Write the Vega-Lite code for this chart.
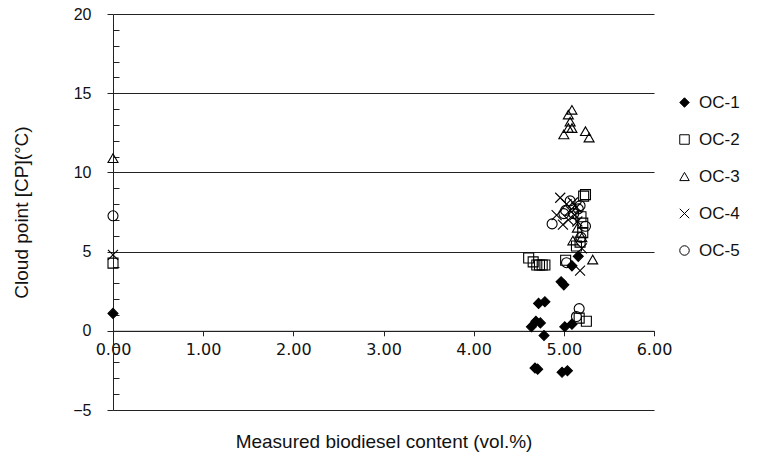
{
  "$schema": "https://vega.github.io/schema/vega-lite/v6.json",
  "autosize": "none",
  "width": 541,
  "height": 396,
  "padding": {"left": 113, "top": 14, "right": 124, "bottom": 51},
  "background": "white",
  "config": {"view": {"stroke": null}},
  "data": {
    "values": [
      {"series": "OC-1", "content": 0.0, "cp": 1.1},
      {"series": "OC-1", "content": 4.64, "cp": 0.25},
      {"series": "OC-1", "content": 4.69, "cp": 0.6},
      {"series": "OC-1", "content": 4.74, "cp": 0.5},
      {"series": "OC-1", "content": 4.78, "cp": -0.3},
      {"series": "OC-1", "content": 4.72, "cp": 1.73},
      {"series": "OC-1", "content": 4.79, "cp": 1.84},
      {"series": "OC-1", "content": 4.68, "cp": -2.35},
      {"series": "OC-1", "content": 4.71, "cp": -2.42},
      {"series": "OC-1", "content": 4.98, "cp": -2.62},
      {"series": "OC-1", "content": 5.04, "cp": -2.52},
      {"series": "OC-1", "content": 5.01, "cp": 0.25},
      {"series": "OC-1", "content": 5.09, "cp": 0.42},
      {"series": "OC-1", "content": 4.97, "cp": 3.1},
      {"series": "OC-1", "content": 5.0, "cp": 2.9},
      {"series": "OC-1", "content": 5.09, "cp": 4.1},
      {"series": "OC-1", "content": 5.16, "cp": 4.7},
      {"series": "OC-2", "content": 0.0, "cp": 4.27},
      {"series": "OC-2", "content": 4.61, "cp": 4.6},
      {"series": "OC-2", "content": 4.66, "cp": 4.35},
      {"series": "OC-2", "content": 4.7, "cp": 4.15},
      {"series": "OC-2", "content": 4.73, "cp": 4.15},
      {"series": "OC-2", "content": 4.76, "cp": 4.15},
      {"series": "OC-2", "content": 4.79, "cp": 4.15},
      {"series": "OC-2", "content": 5.02, "cp": 4.45},
      {"series": "OC-2", "content": 5.14, "cp": 5.35},
      {"series": "OC-2", "content": 5.18, "cp": 5.6},
      {"series": "OC-2", "content": 5.21, "cp": 6.2},
      {"series": "OC-2", "content": 5.21, "cp": 6.8},
      {"series": "OC-2", "content": 5.19, "cp": 7.2},
      {"series": "OC-2", "content": 5.22, "cp": 8.5},
      {"series": "OC-2", "content": 5.24, "cp": 8.6},
      {"series": "OC-2", "content": 5.17, "cp": 0.8},
      {"series": "OC-2", "content": 5.25, "cp": 0.6},
      {"series": "OC-3", "content": 0.0, "cp": 10.9},
      {"series": "OC-3", "content": 5.09, "cp": 13.95},
      {"series": "OC-3", "content": 5.05, "cp": 13.65},
      {"series": "OC-3", "content": 5.07, "cp": 13.2},
      {"series": "OC-3", "content": 5.05, "cp": 12.8},
      {"series": "OC-3", "content": 5.09, "cp": 12.8},
      {"series": "OC-3", "content": 5.0, "cp": 12.4},
      {"series": "OC-3", "content": 5.24, "cp": 12.6},
      {"series": "OC-3", "content": 5.28, "cp": 12.2},
      {"series": "OC-3", "content": 5.1, "cp": 5.7},
      {"series": "OC-3", "content": 5.2, "cp": 5.9},
      {"series": "OC-3", "content": 5.15, "cp": 6.5},
      {"series": "OC-3", "content": 5.32, "cp": 4.5},
      {"series": "OC-4", "content": 0.0, "cp": 4.8},
      {"series": "OC-4", "content": 4.96, "cp": 8.4},
      {"series": "OC-4", "content": 4.92, "cp": 7.3},
      {"series": "OC-4", "content": 4.99, "cp": 6.7},
      {"series": "OC-4", "content": 5.03, "cp": 8.0},
      {"series": "OC-4", "content": 5.07, "cp": 7.6},
      {"series": "OC-4", "content": 5.1, "cp": 8.1},
      {"series": "OC-4", "content": 5.12, "cp": 7.3},
      {"series": "OC-4", "content": 5.15, "cp": 6.9},
      {"series": "OC-4", "content": 5.05, "cp": 7.0},
      {"series": "OC-4", "content": 5.14, "cp": 7.8},
      {"series": "OC-4", "content": 5.2, "cp": 5.2},
      {"series": "OC-4", "content": 5.18, "cp": 3.8},
      {"series": "OC-5", "content": 0.0, "cp": 7.26},
      {"series": "OC-5", "content": 4.87, "cp": 6.75},
      {"series": "OC-5", "content": 5.0, "cp": 7.4},
      {"series": "OC-5", "content": 5.02, "cp": 7.6},
      {"series": "OC-5", "content": 5.07, "cp": 8.2},
      {"series": "OC-5", "content": 5.11, "cp": 7.4},
      {"series": "OC-5", "content": 5.16, "cp": 7.7},
      {"series": "OC-5", "content": 5.18, "cp": 7.9},
      {"series": "OC-5", "content": 5.24, "cp": 6.6},
      {"series": "OC-5", "content": 5.19, "cp": 5.9},
      {"series": "OC-5", "content": 5.03, "cp": 4.3},
      {"series": "OC-5", "content": 5.17, "cp": 1.4},
      {"series": "OC-5", "content": 5.14, "cp": 0.9}
    ]
  },
  "resolve": {"axis": {"y": "independent", "x": "independent"}},
  "layer": [
    {
      "description": "Minor y ticks, drawn inward every 1 °C",
      "mark": {"type": "point", "opacity": 0},
      "encoding": {
        "x": {"field": "content", "type": "quantitative", "scale": {"domain": [0, 6], "nice": false}, "axis": null},
        "y": {
          "field": "cp", "type": "quantitative",
          "scale": {"domain": [-5, 20], "nice": false},
          "axis": {
            "orient": "left", "values": [-4, -3, -2, -1, 1, 2, 3, 4, 6, 7, 8, 9, 11, 12, 13, 14, 16, 17, 18, 19],
            "labels": false, "domain": false, "grid": false, "title": null,
            "tickSize": -6, "tickColor": "#222", "tickWidth": 1
          }
        }
      }
    },
    {
      "mark": {"type": "point", "filled": true, "strokeWidth": 1.1, "opacity": 1, "size": 100},
      "encoding": {
        "x": {
          "field": "content", "type": "quantitative",
          "scale": {"domain": [0, 6], "nice": false},
          "axis": {
            "values": [0, 1, 2, 3, 4, 5, 6], "format": ".2f", "offset": -79.2, "labelFlush": false,
            "grid": false, "domainColor": "#222", "tickColor": "#222", "tickSize": 5,
            "labelFont": "DejaVu Sans", "labelFontSize": 16, "labelColor": "#111", "labelPadding": 6,
            "title": "Measured biodiesel content (vol.%)", "titleFont": "Liberation Sans",
            "titleFontSize": 19, "titleFontWeight": "normal", "titleColor": "#111", "titlePadding": 75
          }
        },
        "y": {
          "field": "cp", "type": "quantitative",
          "scale": {"domain": [-5, 20], "nice": false},
          "axis": {
            "orient": "left", "values": [-5, 0, 5, 10, 15, 20], "labelFlush": false,
            "grid": true, "gridColor": "#222", "gridWidth": 1,
            "domainColor": "#222", "tickColor": "#222", "tickSize": 6,
            "labelFont": "Liberation Sans", "labelFontSize": 16, "labelColor": "#111", "labelPadding": 16,
            "title": "Cloud point [CP](°C)", "titleFont": "Liberation Sans",
            "titleFontSize": 19, "titleFontWeight": "normal", "titleColor": "#111", "titlePadding": 41
          }
        },
        "shape": {
          "field": "series", "type": "nominal",
          "scale": {"domain": ["OC-1", "OC-2", "OC-3", "OC-4", "OC-5"],
                    "range": ["diamond", "square", "triangle-up", "M-1,-1L1,1M-1,1L1,-1", "circle"]},
          "legend": {
            "title": null, "orient": "none", "legendX": 563, "legendY": 80,
            "labelFont": "Liberation Sans", "labelFontSize": 17, "labelColor": "#111",
            "symbolSize": 90, "symbolStrokeWidth": 1,
            "rowPadding": 19, "labelOffset": 6, "padding": 0
          }
        },
        "fill": {
          "field": "series", "type": "nominal",
          "scale": {"domain": ["OC-1", "OC-2", "OC-3", "OC-4", "OC-5"],
                    "range": ["black", "transparent", "transparent", "transparent", "transparent"]},
          "legend": {
            "title": null, "orient": "none", "legendX": 563, "legendY": 80,
            "labelFont": "Liberation Sans", "labelFontSize": 17, "labelColor": "#111",
            "symbolSize": 90, "symbolStrokeWidth": 1,
            "rowPadding": 19, "labelOffset": 6, "padding": 0
          }
        },
        "stroke": {
          "field": "series", "type": "nominal",
          "scale": {"domain": ["OC-1", "OC-2", "OC-3", "OC-4", "OC-5"],
                    "range": ["black", "black", "black", "black", "black"]},
          "legend": {
            "title": null, "orient": "none", "legendX": 563, "legendY": 80,
            "labelFont": "Liberation Sans", "labelFontSize": 17, "labelColor": "#111",
            "symbolSize": 90, "symbolStrokeWidth": 1,
            "rowPadding": 19, "labelOffset": 6, "padding": 0
          }
        }
      }
    }
  ]
}
